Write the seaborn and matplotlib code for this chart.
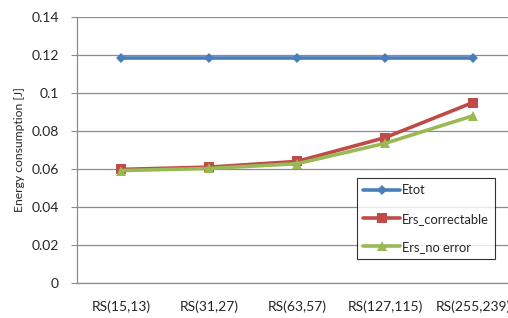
import pandas as pd
import seaborn as sns
import matplotlib.pyplot as plt

# values
codes = ["RS(15,13)", "RS(31,27)", "RS(63,57)", "RS(127,115)", "RS(255,239)"]
etot = [0.1185, 0.1185, 0.1185, 0.1185, 0.1185]
ers_correctable = [0.0598, 0.0610, 0.0640, 0.0765, 0.0950]
ers_no_error = [0.0592, 0.0603, 0.0628, 0.0735, 0.0880]

series = ["Etot", "Ers_correctable", "Ers_no error"]
df = pd.DataFrame({
    "code": codes * 3,
    "energy": etot + ers_correctable + ers_no_error,
    "series": [s for s in series for _ in codes],
})

sns.set_style("white")
plt.rcParams["font.family"] = ["Lato", "DejaVu Sans"]

fig = plt.figure(figsize=(5.08, 3.18), dpi=100)
ax = fig.add_axes([0.1516, 0.110, 0.866, 0.8365])

palette = {"Etot": "#4A7EBB", "Ers_correctable": "#BE4B48", "Ers_no error": "#98B954"}
markers = {"Etot": "D", "Ers_correctable": "s", "Ers_no error": "^"}
sizes = {"Etot": 5, "Ers_correctable": 7, "Ers_no error": 7}
for s in series:
    sub = df[df["series"] == s]
    sns.lineplot(data=sub, x="code", y="energy", ax=ax, color=palette[s],
                 marker=markers[s], markersize=sizes[s], markeredgewidth=0,
                 linewidth=2.6, label=s, sort=False)

ax.set_ylim(0, 0.14)
ax.set_yticks([0, 0.02, 0.04, 0.06, 0.08, 0.1, 0.12, 0.14])
ax.set_yticklabels(["0", "0.02", "0.04", "0.06", "0.08", "0.1", "0.12", "0.14"])
ax.set_xlim(-0.5, 4.5)
ax.yaxis.grid(True, color="#8c8c8c", linewidth=0.9)
ax.set_axisbelow(True)
for side in ["top", "right"]:
    ax.spines[side].set_visible(False)
for side in ["left", "bottom"]:
    ax.spines[side].set_color("#8c8c8c")
    ax.spines[side].set_linewidth(0.9)
ax.tick_params(axis="y", left=True, length=4, color="#8c8c8c", pad=9, labelsize=10)
ax.tick_params(axis="x", bottom=False, pad=9, labelsize=10)
ax.set_xlabel("")
ax.set_ylabel("Energy consumption [J]", fontsize=8.7, labelpad=5)

leg = ax.legend(loc="upper left", bbox_to_anchor=(357 / 508, 1 - 178 / 318),
                bbox_transform=fig.transFigure, frameon=True, fancybox=False,
                fontsize=9.3, handlelength=2.8, borderpad=0.5, labelspacing=1.25,
                handletextpad=0.15, borderaxespad=0)
leg.get_frame().set_edgecolor("black")
leg.get_frame().set_linewidth(0.8)

fig.savefig("out.png", dpi=100)
